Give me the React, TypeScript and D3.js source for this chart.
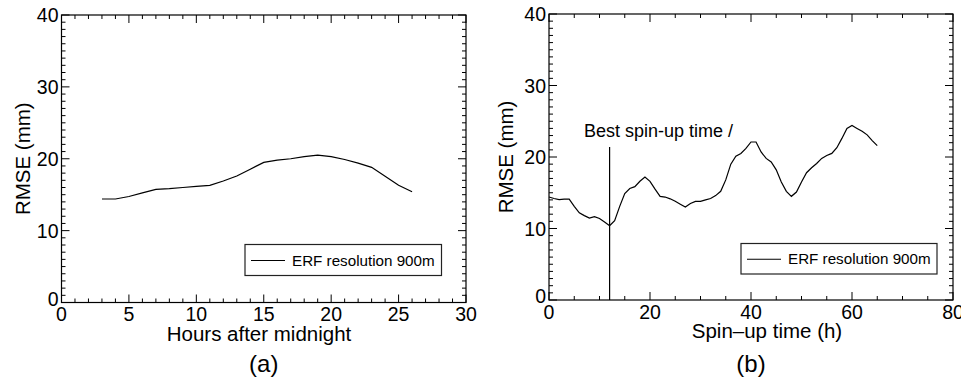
import React from "react";
import * as d3 from "d3";

const hoursA = [3,4,5,6,7,8,9,10,11,12,13,14,15,16,17,18,19,20,21,22,23,24,25,26];
const rmseA = [14.4,14.4,14.75,15.25,15.75,15.85,16.0,16.15,16.3,16.9,17.6,18.55,19.5,19.8,20.0,20.3,20.5,20.3,19.9,19.4,18.8,17.55,16.3,15.4];

const hoursB = d3.range(0, 66);
const rmseB = [14.4,14.2,14.05,14.1,14.1,13.1,12.2,11.8,11.45,11.65,11.4,10.9,10.4,11.1,13.1,14.9,15.6,15.85,16.6,17.2,16.6,15.5,14.5,14.4,14.15,13.8,13.4,13.0,13.5,13.8,13.8,14.0,14.2,14.6,15.2,16.8,19.0,20.1,20.5,21.2,22.1,22.1,20.7,19.8,19.3,18.2,16.5,15.2,14.5,15.1,16.5,17.8,18.5,19.1,19.8,20.2,20.5,21.3,22.6,24.0,24.4,24.0,23.6,23.1,22.3,21.6];

const yTicks = [0,10,20,30,40];
const xTicksA = [0,5,10,15,20,25,30];
const xTicksB = [0,20,40,60,80];
const bestSpinup = 12;
const bestTop = 21.4;

const FONT = "'Liberation Sans', Arial, Helvetica, sans-serif";

type PanelProps = {
  x0: number; x1: number; y0: number; y1: number;
  xMax: number; xMinor: number; xTicks: number[];
  xs: number[]; ys: number[];
  xTitle: string; xTitleX: number; yTitleX: number; label: string;
  legend: { left: number; right: number; top: number; bottom: number };
  children?: (x: d3.ScaleLinear<number, number>, y: d3.ScaleLinear<number, number>) => React.ReactNode;
};

function Panel(p: PanelProps) {
  const x = d3.scaleLinear().domain([0, p.xMax]).range([p.x0, p.x1]);
  const y = d3.scaleLinear().domain([0, 40]).range([p.y0, p.y1]);
  const line = d3.line<number>().x((_, i) => x(p.xs[i])).y((v) => y(v));
  const xMinorTicks = d3.range(0, p.xMax + 0.001, p.xMinor);
  const yMinorTicks = d3.range(0, 41, 1);
  const MAJ = 8, MIN = 4;
  const isMajX = (t: number) => p.xTicks.some((m) => Math.abs(m - t) < 1e-6);
  const isMajY = (t: number) => yTicks.some((m) => Math.abs(m - t) < 1e-6);
  return (
    <g>
      {xMinorTicks.map((t) => {
        const L = isMajX(t) ? MAJ : MIN;
        return (
          <g key={"xt" + t}>
            <line x1={x(t)} x2={x(t)} y1={p.y0} y2={p.y0 - L} stroke="#000" strokeWidth={1} />
            <line x1={x(t)} x2={x(t)} y1={p.y1} y2={p.y1 + L} stroke="#000" strokeWidth={1} />
          </g>
        );
      })}
      {yMinorTicks.map((t) => {
        const L = isMajY(t) ? MAJ : MIN;
        return (
          <g key={"yt" + t}>
            <line x1={p.x0} x2={p.x0 + L} y1={y(t)} y2={y(t)} stroke="#000" strokeWidth={1} />
            <line x1={p.x1} x2={p.x1 - L} y1={y(t)} y2={y(t)} stroke="#000" strokeWidth={1} />
          </g>
        );
      })}
      <rect x={p.x0} y={p.y1} width={p.x1 - p.x0} height={p.y0 - p.y1} fill="none" stroke="#000" strokeWidth={1.2} />
      {p.xTicks.map((t) => (
        <text key={"xl" + t} x={x(t)} y={p.y0 + 18.5} textAnchor="middle" fontSize={19.5} fontFamily={FONT} fill="#000">{t}</text>
      ))}
      {yTicks.map((t) => (
        <text key={"yl" + t} x={p.x0 - 3} y={y(t) + (t === 0 ? 3 : 7)} textAnchor="end" fontSize={19.5} fontFamily={FONT} fill="#000">{t}</text>
      ))}
      <path d={line(p.ys) || ""} fill="none" stroke="#000" strokeWidth={1.2} />
      {p.children && p.children(x, y)}
      <rect x={p.legend.left} y={p.legend.top} width={p.legend.right - p.legend.left} height={p.legend.bottom - p.legend.top} fill="#fff" stroke="#222" strokeWidth={1.2} />
      <line x1={p.legend.left + 6} x2={p.legend.left + 40} y1={(p.legend.top + p.legend.bottom) / 2 + 0.5} y2={(p.legend.top + p.legend.bottom) / 2 + 0.5} stroke="#000" strokeWidth={1.2} />
      <text x={p.legend.left + 47} y={(p.legend.top + p.legend.bottom) / 2 + 5.5} fontSize={15.2} fontFamily={FONT} fill="#000">ERF resolution 900m</text>
      <text x={p.xTitleX} y={p.y0 + 38} textAnchor="middle" fontSize={20.5} fontFamily={FONT} fill="#000">{p.xTitle}</text>
      <text transform={`translate(${p.yTitleX},${(p.y0 + p.y1) / 2}) rotate(-90)`} textAnchor="middle" fontSize={20.5} fontFamily={FONT} fill="#000">RMSE (mm)</text>
      <text x={(p.x0 + p.x1) / 2} y={372} textAnchor="middle" fontSize={24} fontFamily={FONT} fill="#000">{p.label}</text>
    </g>
  );
}

export default function App() {
  return (
    <svg width={961} height={379} style={{ position: "absolute", left: 0, top: 0, background: "#fff" }}>
      <rect width={961} height={379} fill="#fff" />
      <Panel x0={61.5} x1={466} y0={302.5} y1={15} xMax={30} xMinor={1} xTicks={xTicksA}
        xs={hoursA} ys={rmseA} xTitle="Hours after midnight" xTitleX={259} yTitleX={29.5} label="(a)"
        legend={{ left: 245, right: 441.5, top: 244.5, bottom: 275.5 }} />
      <Panel x0={549} x1={953} y0={300} y1={14} xMax={80} xMinor={5} xTicks={xTicksB}
        xs={hoursB} ys={rmseB} xTitle="Spin–up time (h)" xTitleX={767} yTitleX={512.5} label="(b)"
        legend={{ left: 741, right: 937, top: 243.5, bottom: 274 }}>
        {(x, y) => (
          <g>
            <line x1={x(bestSpinup)} x2={x(bestSpinup)} y1={y(0)} y2={y(bestTop)} stroke="#000" strokeWidth={1.2} />
            <text x={584} y={137} fontSize={18} fontFamily={FONT} fill="#000">Best spin-up time /</text>
          </g>
        )}
      </Panel>
    </svg>
  );
}
